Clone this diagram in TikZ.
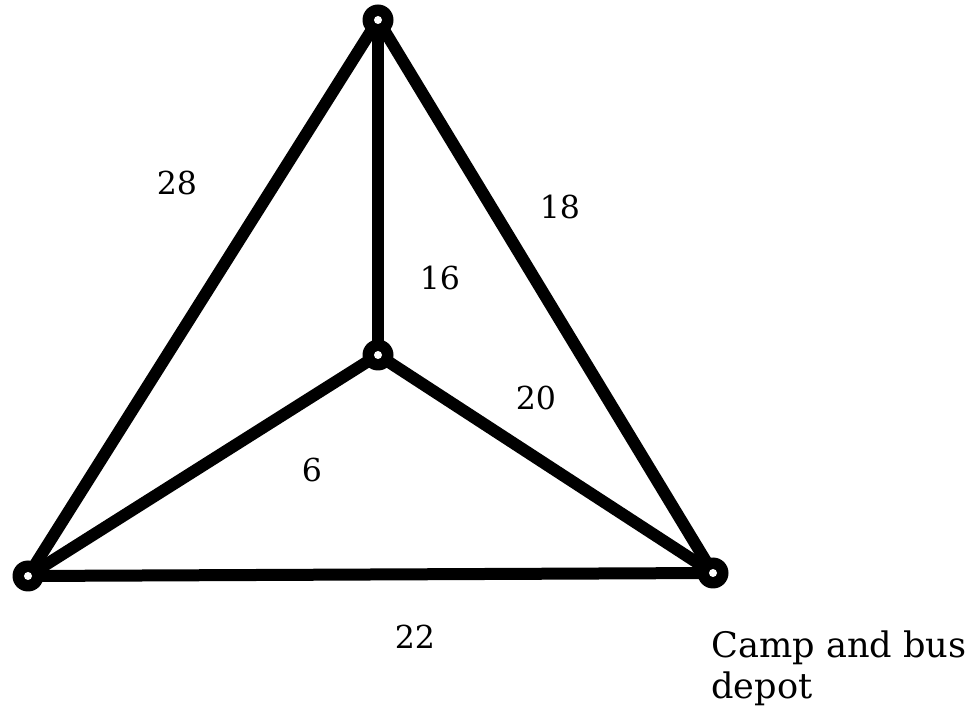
\documentclass[tikz,border=0pt]{standalone}
\usepackage{fontspec}
\setmainfont{DejaVu Serif}
\usetikzlibrary{positioning}

\begin{document}
\begin{tikzpicture}[
    vertex/.style={circle, fill=black, minimum size=0.62cm, inner sep=0pt,
        path picture={\fill[white] (path picture bounding box.center) circle (0.08cm);}},
    edge/.style={line width=0.24cm, line cap=round},
    weight/.style={font=\fontsize{18}{21}\selectfont, inner sep=0pt}
]
\useasboundingbox (0,0) rectangle (19.48,14.14);

\coordinate (pA) at (7.56,13.74);
\coordinate (pO) at (7.56,7.04);
\coordinate (pB) at (0.56,2.62);
\coordinate (pC) at (14.26,2.68);

\draw[edge] (pA) -- (pB);
\draw[edge] (pA) -- (pC);
\draw[edge] (pA) -- (pO);
\draw[edge] (pO) -- (pB);
\draw[edge] (pO) -- (pC);
\draw[edge] (pB) -- (pC);

\node[vertex] (top) at (pA) {};
\node[vertex] (mid) at (pO) {};
\node[vertex] (left) at (pB) {};
\node[vertex] (camp) at (pC) {};

\node[weight] (wAB) at (3.54,10.48) {28};
\node[weight] (wAC) at (11.20,10.00) {18};
\node[weight] (wAO) at (8.80,8.58) {16};
\node[weight] (wOC) at (10.72,6.18) {20};
\node[weight] (wOB) at (6.24,4.74) {6};
\node[weight] (wBC) at (8.30,1.40) {22};

\node[font=\fontsize{20}{23}\selectfont, align=left, anchor=base west, inner sep=0pt] (depot) at (14.22,0.18) {Camp and bus\\depot};
\end{tikzpicture}
\end{document}
